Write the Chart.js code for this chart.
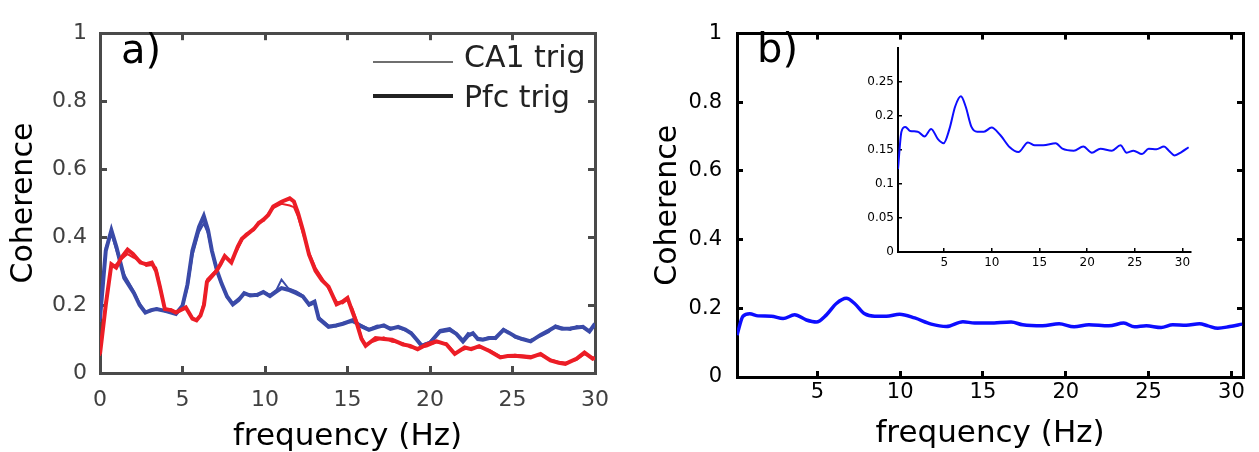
<!DOCTYPE html>
<html>
<head>
<meta charset="utf-8">
<script src="https://cdn.jsdelivr.net/npm/chart.js@4.4.1/dist/chart.umd.min.js"></script>
<style>
    html, body { margin: 0; padding: 0; background: #fff; }
    #wrap { position: relative; width: 1259px; height: 452px; overflow: hidden; }
    .panel { position: absolute; }
    #panelA { left: 0; top: 0; }
    #panelB { left: 630px; top: 0; }
    #panelInset { left: 840px; top: 30px; }
</style>
</head>
<body>
<div id="wrap">
    <div class="panel" id="panelA"><canvas id="chartA" width="630" height="452"></canvas></div>
    <div class="panel" id="panelB"><canvas id="chartB" width="629" height="452"></canvas></div>
    <div class="panel" id="panelInset"><canvas id="chartInset" width="370" height="250"></canvas></div>
</div>
<script>
// ── Data ──────────────────────────────────────────────────────────────────────

// panel a) blue curves
const blueFreq = [
    0, 0.35, 0.69, 1.0, 1.47, 2.06, 2.4, 2.75, 3.1, 3.43,
    4.0, 4.6, 5.0, 5.3, 5.6, 6.0, 6.29, 6.55, 6.78, 7.1,
    7.37, 7.7, 8.05, 8.4, 8.74, 9.1, 9.53, 9.9, 10.3, 10.7,
    11.0, 11.4, 11.9, 12.3, 12.67, 13.0, 13.26, 13.85, 14.3, 14.73,
    15.3, 15.8, 16.3, 16.8, 17.2, 17.6, 18.07, 18.5, 18.86, 19.2,
    19.5, 20.0, 20.6, 21.2, 21.6, 22.0, 22.3, 22.6, 22.9, 23.2,
    23.6, 23.97, 24.45, 24.8, 25.14, 25.6, 26.1, 26.7, 27.2, 27.6,
    28.0, 28.5, 28.9, 29.27, 29.66, 30
];
const blueThick = [
    0.16, 0.36, 0.42, 0.37, 0.28, 0.235, 0.2, 0.178, 0.185, 0.188,
    0.182, 0.174, 0.198, 0.26, 0.36, 0.43, 0.462, 0.42, 0.36, 0.3,
    0.263, 0.225, 0.202, 0.215, 0.235, 0.228, 0.23, 0.238, 0.226, 0.24,
    0.25, 0.245, 0.235, 0.225, 0.202, 0.21, 0.16, 0.136, 0.14, 0.145,
    0.155, 0.138, 0.127, 0.135, 0.14, 0.13, 0.136, 0.128, 0.117, 0.098,
    0.08, 0.089, 0.122, 0.127, 0.115, 0.093, 0.11, 0.117, 0.1, 0.098,
    0.103, 0.103, 0.127, 0.118, 0.108, 0.1, 0.093, 0.112, 0.125, 0.136,
    0.13, 0.131, 0.134, 0.136, 0.122, 0.145
];
const blueThin = [
    0.15, 0.37, 0.41, 0.36, 0.29, 0.24, 0.205, 0.18, 0.182, 0.19,
    0.18, 0.176, 0.195, 0.25, 0.345, 0.415, 0.44, 0.41, 0.355, 0.296,
    0.26, 0.222, 0.205, 0.22, 0.232, 0.232, 0.226, 0.24, 0.23, 0.245,
    0.275, 0.25, 0.24, 0.228, 0.198, 0.205, 0.165, 0.14, 0.137, 0.148,
    0.15, 0.142, 0.13, 0.14, 0.136, 0.134, 0.132, 0.125, 0.12, 0.1,
    0.083, 0.092, 0.127, 0.132, 0.118, 0.098, 0.118, 0.112, 0.104, 0.1,
    0.106, 0.1, 0.13, 0.12, 0.104, 0.097, 0.098, 0.108, 0.12, 0.14,
    0.134, 0.127, 0.138, 0.132, 0.126, 0.14
];

// panel a) red curves
const redFreq = [
    0, 0.35, 0.69, 0.98, 1.3, 1.67, 2.0, 2.45, 2.8, 3.14,
    3.4, 3.63, 3.93, 4.3, 4.6, 5.2, 5.6, 5.85, 6.09, 6.3,
    6.48, 7.07, 7.3, 7.56, 7.96, 8.35, 8.6, 8.84, 9.33, 9.6,
    9.92, 10.2, 10.5, 11.0, 11.5, 11.75, 12.0, 12.3, 12.67, 13.06,
    13.45, 13.85, 14.34, 14.7, 15.0, 15.3, 15.6, 15.85, 16.1, 16.7,
    17.2, 17.7, 18.37, 18.8, 19.25, 19.8, 20.4, 21.0, 21.5, 22.1,
    22.5, 22.98, 23.6, 24.26, 24.7, 25.14, 26.1, 26.7, 27.3, 27.8,
    28.2, 28.87, 29.36, 29.86, 30
];
const redThick = [
    0.056, 0.2, 0.32, 0.31, 0.34, 0.363, 0.35, 0.325, 0.32, 0.325,
    0.3, 0.254, 0.188, 0.185, 0.178, 0.193, 0.16, 0.155, 0.169, 0.2,
    0.268, 0.301, 0.32, 0.344, 0.325, 0.372, 0.395, 0.405, 0.424, 0.44,
    0.452, 0.465, 0.49, 0.504, 0.514, 0.505, 0.471, 0.42, 0.348, 0.301,
    0.273, 0.254, 0.202, 0.21, 0.221, 0.18, 0.14, 0.1, 0.08, 0.103,
    0.1, 0.098, 0.084, 0.08, 0.07, 0.084, 0.093, 0.084, 0.056, 0.075,
    0.07, 0.079, 0.065, 0.046, 0.05, 0.051, 0.046, 0.056, 0.037, 0.03,
    0.027, 0.042, 0.06, 0.042, 0.045
];
const redThin = [
    0.05, 0.21, 0.31, 0.32, 0.335, 0.35, 0.34, 0.33, 0.315, 0.318,
    0.31, 0.26, 0.19, 0.188, 0.18, 0.19, 0.163, 0.158, 0.172, 0.21,
    0.275, 0.305, 0.316, 0.34, 0.33, 0.365, 0.39, 0.41, 0.42, 0.445,
    0.448, 0.47, 0.485, 0.498, 0.493, 0.488, 0.46, 0.41, 0.355, 0.31,
    0.28, 0.248, 0.21, 0.205, 0.215, 0.19, 0.15, 0.105, 0.085, 0.095,
    0.105, 0.092, 0.088, 0.075, 0.074, 0.078, 0.09, 0.088, 0.06, 0.07,
    0.074, 0.075, 0.068, 0.05, 0.047, 0.054, 0.05, 0.052, 0.04, 0.033,
    0.03, 0.038, 0.055, 0.046, 0.042
];

// panel b) and its inset (same curve)
const bFreq = [
    0.15, 0.51, 0.92, 1.42, 2.22, 2.93, 3.63, 4.34, 4.94, 5.55,
    6.15, 6.75, 7.25, 7.86, 8.46, 9.17, 9.97, 10.88, 11.88, 12.79,
    13.79, 14.5, 15.4, 16.7, 17.4, 18.6, 19.6, 20.5, 21.4, 22.6,
    23.5, 24.15, 24.86, 25.76, 26.46, 27.27, 28.07, 28.58, 29.18, 29.9,
    30.65
];
const bCoh = [
    0.122, 0.177, 0.184, 0.178, 0.177, 0.170, 0.181, 0.166, 0.160, 0.181,
    0.214, 0.229, 0.214, 0.184, 0.177, 0.177, 0.183, 0.172, 0.154, 0.147,
    0.161, 0.157, 0.157, 0.160, 0.152, 0.149, 0.155, 0.146, 0.152, 0.149,
    0.157, 0.146, 0.149, 0.144, 0.152, 0.151, 0.155, 0.149, 0.142, 0.147,
    0.154
];

// tick values
const aXTicks = [0, 5, 10, 15, 20, 25, 30];
const aYTicks = [0, 0.2, 0.4, 0.6, 0.8, 1];
const bXTicks = [5, 10, 15, 20, 25, 30];
const bYTicks = [0, 0.2, 0.4, 0.6, 0.8, 1];
const insetXTicks = [5, 10, 15, 20, 25, 30];
const insetYTicks = [0, 0.05, 0.1, 0.15, 0.2, 0.25];

const legendLabels = ['CA1 trig', 'Pfc trig'];

// ── Helpers ───────────────────────────────────────────────────────────────────

Chart.defaults.font.family = '"DejaVu Sans", sans-serif';
Chart.defaults.animation = false;

const pts = (xs, ys) => xs.map((x, i) => ({ x: x, y: ys[i] }));
const fixedTicks = (arr) => (scale) => { scale.ticks = arr.map(v => ({ value: v })); };
const plainLabel = (v) => String(+Number(v).toFixed(2));

// panel letters and the black line-width legend
function makeNotes(name, texts, lines) {
    return {
        id: 'notes_' + name,
        afterDraw(chart) {
            const ctx = chart.ctx;
            ctx.save();
            texts.forEach(t => {
                ctx.font = t.font;
                ctx.fillStyle = t.color || '#000';
                ctx.textBaseline = 'alphabetic';
                ctx.fillText(t.text, t.x, t.y);
            });
            lines.forEach(l => {
                ctx.fillStyle = l.color || '#000';
                ctx.fillRect(l.x1, l.y - l.width / 2, l.x2 - l.x1, l.width);
            });
            ctx.restore();
        }
    };
}

// matlab-like axes: solid border, inward tick marks (negative tick length),
// optional mirrored top/right axes to close the box
function axes(o) {
    const edge = { display: true, color: o.frameColor, width: o.frameWidth };
    const marks = { display: true, drawOnChartArea: false, drawTicks: true, tickLength: -o.tick, color: o.frameColor, lineWidth: o.tickWidth };
    const scales = {
        x: {
            type: 'linear', position: 'bottom', min: o.xMin, max: o.xMax,
            afterBuildTicks: fixedTicks(o.xTicks),
            afterFit: (s) => { s.height = o.xHeight; },
            grid: marks, border: edge,
            ticks: { color: o.tickColor, font: { size: o.tickSize }, padding: o.xPad + o.tick, maxRotation: 0, autoSkip: false, callback: plainLabel },
            title: o.xTitle ? { display: true, text: o.xTitle, color: '#000', font: { size: 31, lineHeight: 1 }, padding: { top: 0, bottom: o.xTitlePad } } : { display: false }
        },
        y: {
            type: 'linear', position: 'left', min: o.yMin, max: o.yMax,
            afterBuildTicks: fixedTicks(o.yTicks),
            afterFit: (s) => { s.width = o.yWidth; },
            grid: marks, border: edge,
            ticks: { color: o.tickColor, font: { size: o.tickSize }, padding: o.yPad + o.tick, autoSkip: false, callback: plainLabel },
            title: o.yTitle ? { display: true, text: o.yTitle, color: '#000', font: { size: 30, lineHeight: 1 }, padding: { top: o.yTitlePad, bottom: 0 } } : { display: false }
        }
    };
    if (o.box) {
        scales.x2 = {
            type: 'linear', position: 'top', min: o.xMin, max: o.xMax,
            afterBuildTicks: fixedTicks(o.xTicks),
            afterFit: (s) => { s.height = 0; },
            grid: marks, border: edge, ticks: { display: false }
        };
        scales.y2 = {
            type: 'linear', position: 'right', min: o.yMin, max: o.yMax,
            afterBuildTicks: fixedTicks(o.yTicks),
            afterFit: (s) => { s.width = 0; },
            grid: marks, border: edge, ticks: { display: false }
        };
    }
    return scales;
}

const baseOptions = {
    responsive: false,
    animation: false,
    events: [],
    elements: { point: { radius: 0 } },
    plugins: { legend: { display: false }, tooltip: { enabled: false } }
};

// ── Panel a) ──────────────────────────────────────────────────────────────────

const blue = '#3a4aa8';
const red = '#ec1d26';

// the tick-label overhang of the boxed axes is added on top of these
const padA = { left: 0, top: 7, right: 8, bottom: 0 };

new Chart(document.getElementById('chartA'), {
    type: 'line',
    data: {
        datasets: [
            { label: legendLabels[1] + ' red', data: pts(redFreq, redThick), borderColor: red, borderWidth: 4, order: 1 },
            { label: legendLabels[0] + ' red', data: pts(redFreq, redThin), borderColor: red, borderWidth: 2, order: 2 },
            { label: legendLabels[1] + ' blue', data: pts(blueFreq, blueThick), borderColor: blue, borderWidth: 4, order: 3 },
            { label: legendLabels[0] + ' blue', data: pts(blueFreq, blueThin), borderColor: blue, borderWidth: 2, order: 4 }
        ]
    },
    options: {
        ...baseOptions,
        layout: { autoPadding: false, padding: padA },
        scales: axes({
            xMin: 0, xMax: 30, xTicks: aXTicks, xHeight: 79, xPad: 14, xTitle: 'frequency (Hz)', xTitlePad: 0,
            yMin: 0, yMax: 1, yTicks: aYTicks, yWidth: 100, yPad: 13, yTitle: 'Coherence', yTitlePad: 9,
            tickColor: '#404040', tickSize: 22,
            frameColor: '#4a4a4a', frameWidth: 3, tickWidth: 3, tick: 7, box: true
        })
    },
    plugins: [
        makeNotes('a', [
            { text: 'a)', x: 121, y: 63, font: '40px "DejaVu Sans"' },
            { text: legendLabels[0], x: 464, y: 67, font: '30px "DejaVu Sans"', color: '#222' },
            { text: legendLabels[1], x: 464, y: 107, font: '30px "DejaVu Sans"', color: '#222' }
        ], [
            { x1: 373, x2: 453, y: 62, width: 1.3, color: '#222' },
            { x1: 373, x2: 453, y: 96, width: 4, color: '#222' }
        ])
    ]
});

// ── Panel b) ──────────────────────────────────────────────────────────────────

const pureBlue = '#0d0dff';
const padB = { left: 0, top: 2, right: 16, bottom: 0 };

new Chart(document.getElementById('chartB'), {
    type: 'line',
    data: {
        datasets: [
            { label: 'coherence', data: pts(bFreq, bCoh), borderColor: pureBlue, borderWidth: 3.5, cubicInterpolationMode: 'monotone' }
        ]
    },
    options: {
        ...baseOptions,
        layout: { autoPadding: false, padding: padB },
        scales: axes({
            xMin: 0.15, xMax: 30.7, xTicks: bXTicks, xHeight: 75, xPad: 3, xTitle: 'frequency (Hz)', xTitlePad: 3,
            yMin: 0, yMax: 1, yTicks: bYTicks, yWidth: 107, yPad: 15, yTitle: 'Coherence', yTitlePad: 23,
            tickColor: '#000', tickSize: 21,
            frameColor: '#000', frameWidth: 3, tickWidth: 3, tick: 6, box: true
        })
    },
    plugins: [
        makeNotes('b', [{ text: 'b)', x: 127, y: 62, font: '40px "DejaVu Sans"' }], [])
    ]
});

// ── Inset ─────────────────────────────────────────────────────────────────────

const padInset = { left: 0, top: 18, right: 19, bottom: 0 };

new Chart(document.getElementById('chartInset'), {
    type: 'line',
    data: {
        datasets: [
            { label: 'coherence', data: pts(bFreq, bCoh), borderColor: pureBlue, borderWidth: 2, cubicInterpolationMode: 'monotone' }
        ]
    },
    options: {
        ...baseOptions,
        layout: { autoPadding: false, padding: padInset },
        scales: axes({
            xMin: 0.15, xMax: 30.9, xTicks: insetXTicks, xHeight: 28, xPad: 4,
            yMin: 0, yMax: 0.3, yTicks: insetYTicks, yWidth: 58, yPad: 4,
            tickColor: '#000', tickSize: 12,
            frameColor: '#000', frameWidth: 2, tickWidth: 1.5, tick: 4, box: false
        })
    }
});
</script>
</body>
</html>
